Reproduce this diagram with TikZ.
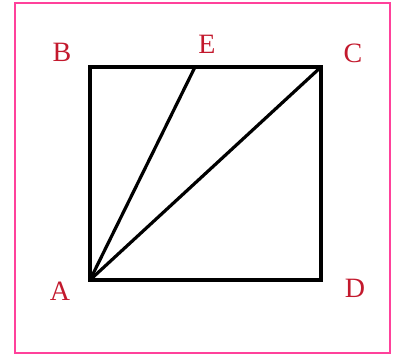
\documentclass[tikz,border=0pt]{standalone}
\usepackage{fontspec}
\setmainfont{Liberation Serif}
\definecolor{lbl}{RGB}{195,25,45}
\definecolor{frame}{RGB}{255,65,155}
\begin{document}
\begin{tikzpicture}[x=1pt,y=-1pt,
  edge/.style={line width=3.2pt,line join=miter},
  lab/.style={text=lbl,font=\fontsize{28}{28}\selectfont,inner sep=0pt}]
\useasboundingbox (0,0) rectangle (402,356);
\fill[white] (0,0) rectangle (402,356);
\draw[frame,line width=2.2pt] (15,3) rectangle (390,353);
\coordinate (A) at (90,280);
\coordinate (B) at (90,67);
\coordinate (C) at (321,67);
\coordinate (D) at (321,280);
\coordinate (E) at (195,67);
\draw[edge] (A) -- (B) -- (C) -- (D) -- cycle;
\draw[edge] (A) -- (E);
\draw[edge] (A) -- (C);
\node[lab] (lB) at (62,52) {B};
\node[lab] (lE) at (207,44) {E};
\node[lab] (lC) at (353,53) {C};
\node[lab] (lA) at (60,291) {A};
\node[lab] (lD) at (355,288) {D};
\end{tikzpicture}
\end{document}
